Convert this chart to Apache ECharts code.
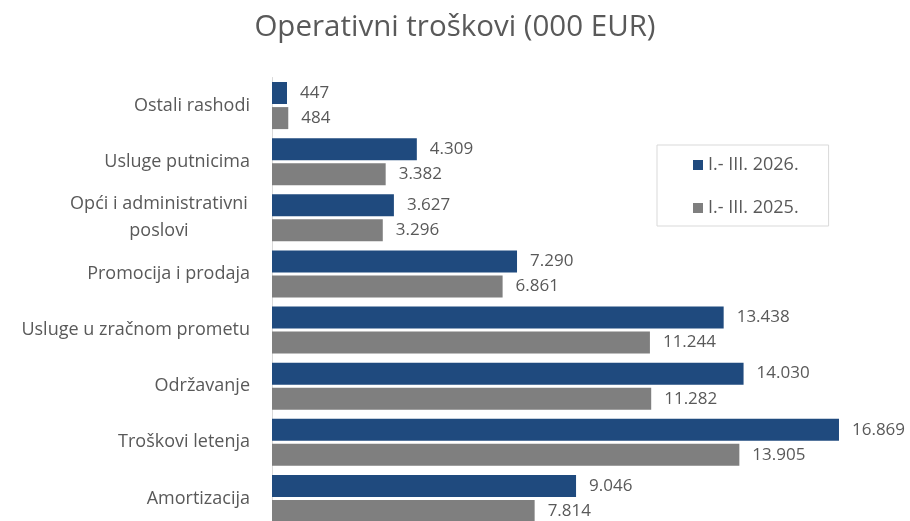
<!DOCTYPE html>
<html lang="hr">
<head>
    <meta charset="UTF-8">
    <title>Operativni troškovi</title>
    <style>
        html, body { margin: 0; padding: 0; background: #fff; }
        #chart { width: 910px; height: 521px; }
    </style>
    <script src="https://cdn.jsdelivr.net/npm/echarts@6/dist/echarts.min.js"></script>
</head>
<body>
    <div id="chart"></div>
    <script>
        // podaci
        var categories = ['Ostali rashodi', 'Usluge putnicima', 'Opći i administrativni\nposlovi', 'Promocija i prodaja',
            'Usluge u zračnom prometu', 'Održavanje', 'Troškovi letenja', 'Amortizacija'];
        var seriesNames = ['I.- III. 2026.', 'I.- III. 2025.'];
        var values2026 = [447, 4309, 3627, 7290, 13438, 14030, 16869, 9046];
        var values2025 = [484, 3382, 3296, 6861, 11244, 11282, 13905, 7814];

        var textColor = '#595959';
        var font = '"Open Sans", sans-serif';

        function fmt(v) {
            return String(v).replace(/\B(?=(\d{3})+(?!\d))/g, '.');
        }

        var chart = echarts.init(document.getElementById('chart'));

        var labelStyle = {
            show: true,
            position: 'right',
            distance: 13,
            color: textColor,
            fontSize: 17,
            fontFamily: font,
            formatter: function (p) { return fmt(p.value); }
        };

        var option = {
            animation: false,
            title: {
                text: 'Operativni troškovi (000 EUR)',
                left: 'center',
                top: 13,
                padding: 0,
                textStyle: { color: textColor, fontSize: 29.5, fontWeight: 'normal', fontFamily: font }
            },
            legend: {
                data: seriesNames,
                orient: 'vertical',
                left: 657,
                top: 145,
                padding: [11, 30, 9, 36],
                itemWidth: 10,
                itemHeight: 10,
                itemGap: 25,
                icon: 'rect',
                borderColor: '#d9d9d9',
                borderWidth: 1,
                textStyle: { color: textColor, fontSize: 18, fontFamily: font }
            },
            grid: {
                left: 272,
                top: 77.5,
                width: 605,
                height: 449,
                outerBoundsMode: 'none'
            },
            xAxis: {
                type: 'value',
                min: 0,
                max: 18000,
                show: false
            },
            yAxis: {
                type: 'category',
                data: categories,
                inverse: true,
                axisLine: { show: true, lineStyle: { color: '#d9d9d9', width: 1 } },
                axisTick: { show: false },
                axisLabel: {
                    margin: 22,
                    color: textColor,
                    fontSize: 18,
                    fontFamily: font,
                    lineHeight: 27,
                    formatter: function (v) {
                        if (v.indexOf('\n') < 0) return v;
                        return v.split('\n').map(function (l) { return '{c|' + l + '}'; }).join('\n');
                    },
                    rich: {
                        c: { width: 182, align: 'center', color: textColor, fontSize: 18, fontFamily: font, lineHeight: 27 }
                    }
                }
            },
            series: [
                {
                    name: seriesNames[0],
                    type: 'bar',
                    data: values2026,
                    barWidth: 22,
                    barGap: '14%',
                    itemStyle: { color: '#1f4a7e' },
                    label: labelStyle
                },
                {
                    name: seriesNames[1],
                    type: 'bar',
                    data: values2025,
                    barWidth: 22,
                    itemStyle: { color: '#7f7f7f' },
                    label: labelStyle
                }
            ]
        };

        chart.setOption(option);
    </script>
</body>
</html>
